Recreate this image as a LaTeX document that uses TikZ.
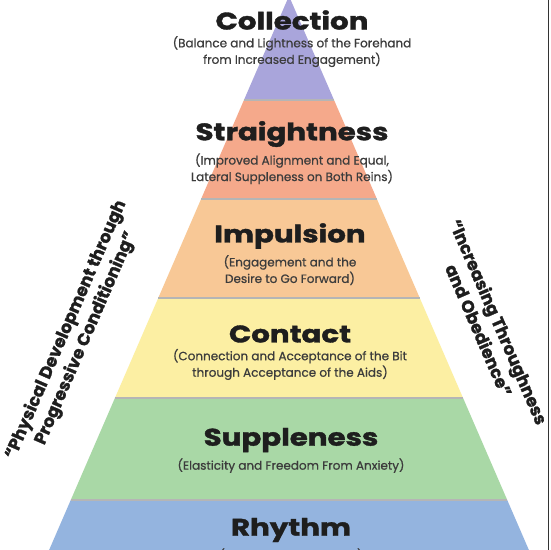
\documentclass[tikz,border=0pt]{standalone}
\usepackage{fontspec}
\setmainfont{Poppins}[BoldFeatures={FakeBold=1.4}]
\newfontfamily\subfont{Poppins}[FakeBold=0.7]
\usepackage{tikz}
\usetikzlibrary{positioning}
\definecolor{collect}{HTML}{A9A5DB}
\definecolor{straight}{HTML}{F5A98B}
\definecolor{impuls}{HTML}{F8C896}
\definecolor{contact}{HTML}{FCEFA3}
\definecolor{supple}{HTML}{A9D8A6}
\definecolor{rhythm}{HTML}{94B4DF}
\definecolor{sepgray}{HTML}{B5B5B5}
\definecolor{inkdark}{HTML}{1E1E1E}
\definecolor{inksub}{HTML}{3C3C3C}

\begin{document}
\begin{tikzpicture}[x=1pt,y=-1pt,
    title/.style={font=\bfseries\fontsize{24}{24}\selectfont,text=inkdark,inner sep=0pt,xscale=1.22},
    sub/.style={font=\subfont\fontsize{12}{16.5}\selectfont,text=inksub,align=center,inner sep=0pt},
    side/.style={font=\bfseries\fontsize{17}{21.5}\selectfont,text=inkdark,align=center,inner sep=0pt}]
        \useasboundingbox (0,0) rectangle (550,550);
        \clip (0,0) rectangle (550,550);
        \fill[white] (0,0) rectangle (550,550);
        % layers of the pyramid, apex at (289,-4)
        \foreach \ya/\yb/\c in {-4/100/collect,100/199/straight,199/298/impuls,298/398/contact,398/500/supple,500/570/rhythm}
          \fill[\c] ({289-0.433*(\ya+4)},\ya) -- ({289+0.433*(\ya+4)},\ya)
            -- ({289+0.433*(\yb+4)},\yb) -- ({289-0.433*(\yb+4)},\yb) -- cycle;
        \foreach \y in {100,199,298,398,500}
          \draw[sepgray,line width=2.5pt] ({289-0.433*(\y+4)},\y) -- ({289+0.433*(\y+4)},\y);
        % frame line on the right
        \draw[black!80,line width=1.5pt] (548.5,0) -- (548.5,550);

        \node[title] (coll) at (292,20) {Collection};
        \node[sub,below=6pt of coll] (collsub) {(Balance and Lightness of the Forehand\\from Increased Engagement)};
        \node[title] (strt) at (292,134) {Straightness};
        \node[sub,below=6pt of strt] (strtsub) {(Improved Alignment and Equal,\\Lateral Suppleness on Both Reins)};
        \node[title] (imp) at (290,236) {Impulsion};
        \node[sub,below=6pt of imp] (impsub) {(Engagement and the\\Desire to Go Forward)};
        \node[title] (cont) at (290,334) {Contact};
        \node[sub,below=6pt of cont] (contsub) {(Connection and Acceptance of the Bit\\through Acceptance of the Aids)};
        \node[title] (supp) at (291,440) {Suppleness};
        \node[sub,below=6pt of supp] (suppsub) {(Elasticity and Freedom From Anxiety)};
        \node[title] (rhy) at (291,530) {Rhythm};
        \node[sub,below=6pt of rhy] (rhysub) {(Regularity and Tempo)};

        \node[side,rotate=66.6] (phys) at (76,334) {“Physical Development through\\Progressive Conditioning”};
        \node[side,rotate=-66.6] (thru) at (489,326) {“Increasing Throughness\\and Obedience”};
      \end{tikzpicture}
\end{document}
